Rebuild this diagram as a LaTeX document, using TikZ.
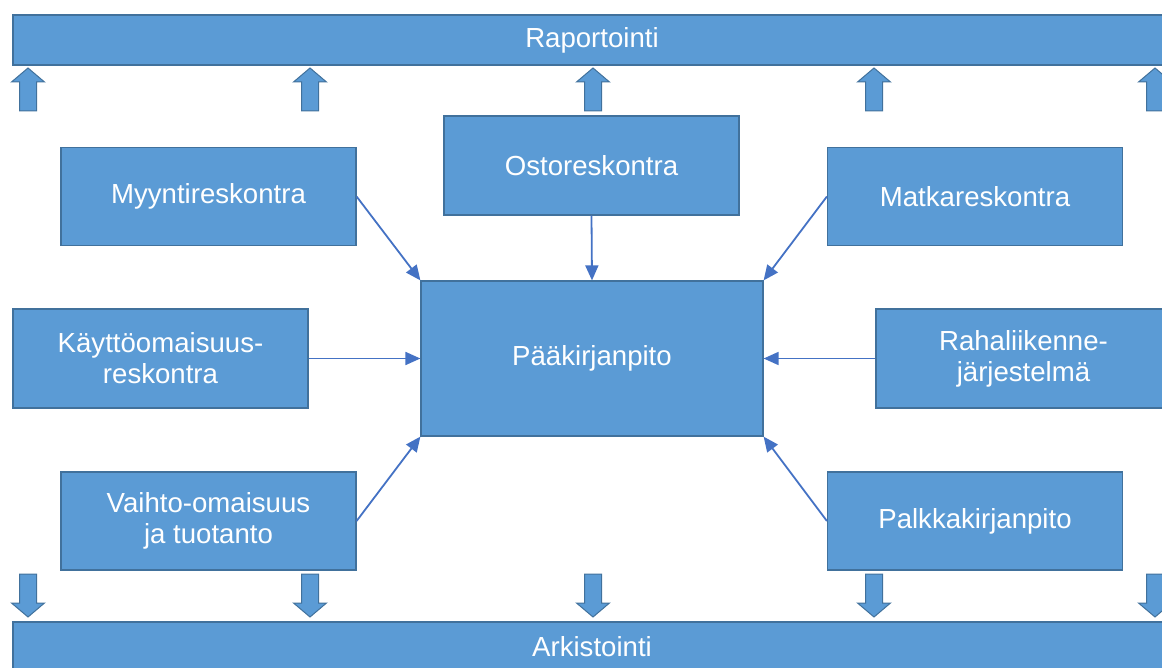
\documentclass[tikz,border=0pt]{standalone}
\usepackage{fontspec}
\setmainfont{Liberation Sans}
\usetikzlibrary{arrows.meta}
\definecolor{boxfill}{HTML}{5B9BD5}
\definecolor{boxline}{HTML}{41719C}
\definecolor{linkblue}{HTML}{4472C4}
\tikzset{
  box/.style={draw=boxline, fill=boxfill, line width=1.2pt, text=white, align=center,
    minimum width=295pt, minimum height=98pt, inner sep=0pt, font=\fontsize{27.6}{31}\selectfont},
  bar/.style={box, minimum width=1158pt, minimum height=50pt},
  link/.style={draw=linkblue, line width=1.8pt, -{Triangle[length=15pt,width=13pt]}},
  blockarrow/.style={draw=boxline, fill=boxfill, line width=1pt}
}
\begin{document}
\begin{tikzpicture}[x=1pt, y=-1pt]
    \useasboundingbox (0,0) rectangle (1162,668);
    \clip (0,0) rectangle (1162,668);

    \node[bar] (raport) at (592,40) {Raportointi};
    \node[bar] (arkisto) at (592,647) {Arkistointi};

    \node[box, minimum height=99pt] (osto) at (591.5,165.5) {Ostoreskontra};
    \node[box] (myynti) at (208.5,196.5) {Myyntireskontra};
    \node[box] (matka) at (975,196.5) {Matkareskontra};
    \node[box, minimum width=342pt, minimum height=155pt] (paa) at (592,358.5) {Pääkirjanpito};
    \node[box, minimum height=99pt] (kaytto) at (160.5,358.5) {Käyttöomaisuus-\\reskontra};
    \node[box, minimum height=99pt] (raha) at (1023.5,358.5) {Rahaliikenne-\\järjestelmä};
    \node[box] (vaihto) at (208.5,521) {Vaihto-omaisuus\\ja tuotanto};
    \node[box] (palkka) at (975,521) {Palkkakirjanpito};

    \draw[link] (myynti.east) -- (paa.north west);
    \draw[link] (osto.south) -- (paa.north);
    \draw[link] (matka.west) -- (paa.north east);
    \draw[link] (kaytto.east) -- (paa.west);
    \draw[link] (raha.west) -- (paa.east);
    \draw[link] (vaihto.east) -- (paa.south west);
    \draw[link] (palkka.west) -- (paa.south east);

    % block arrows up to the report bar and down to the archive bar
    \foreach \cx in {28,310,593,874,1155} {
        \draw[blockarrow] (\cx-8.5,111) -- (\cx-8.5,82) -- (\cx-16.5,82) -- (\cx,68)
            -- (\cx+16.5,82) -- (\cx+8.5,82) -- (\cx+8.5,111) -- cycle;
        \draw[blockarrow] (\cx-8.5,574) -- (\cx-8.5,603) -- (\cx-16.5,603) -- (\cx,617)
            -- (\cx+16.5,603) -- (\cx+8.5,603) -- (\cx+8.5,574) -- cycle;
    }
\end{tikzpicture}
\end{document}
